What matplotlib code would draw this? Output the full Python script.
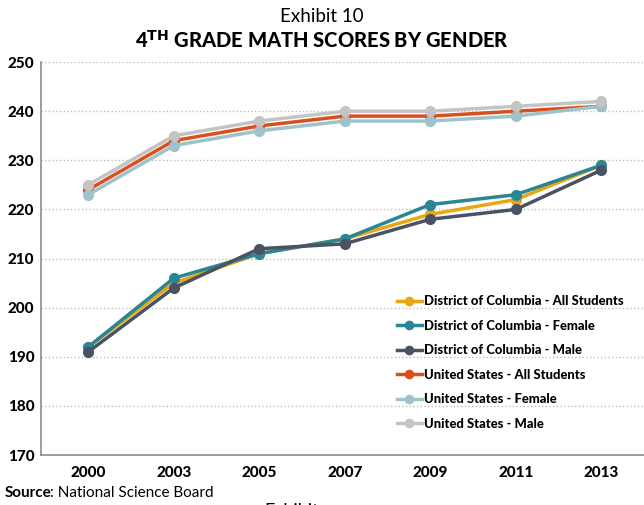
import matplotlib
matplotlib.use("Agg")
import matplotlib.pyplot as plt

years = ["2000", "2003", "2005", "2007", "2009", "2011", "2013"]
dc_all = [192, 205, 211, 214, 219, 222, 229]
dc_female = [192, 206, 211, 214, 221, 223, 229]
dc_male = [191, 204, 212, 213, 218, 220, 228]
us_all = [224, 234, 237, 239, 239, 240, 241]
us_female = [223, 233, 236, 238, 238, 239, 241]
us_male = [225, 235, 238, 240, 240, 241, 242]

series = [
    ("District of Columbia - All Students", dc_all, "#E8A712"),
    ("District of Columbia - Female", dc_female, "#2A8595"),
    ("District of Columbia - Male", dc_male, "#4A5363"),
    ("United States - All Students", us_all, "#D9501E"),
    ("United States - Female", us_female, "#9EC3CA"),
    ("United States - Male", us_male, "#C4C4C4"),
]

plt.rcParams["font.family"] = ["Lato", "DejaVu Sans"]

fig = plt.figure(figsize=(6.44, 5.05), dpi=100)
ax = fig.add_axes([0.064, 0.099, 0.936, 0.778])

x = list(range(len(years)))
for label, vals, color in series:
    ax.plot(x, vals, color=color, lw=2.5, marker="o", markersize=7, label=label)

ax.set_ylim(170, 250)
ax.set_yticks(range(170, 251, 10))
ax.set_xlim(-0.55, 6.5)
ax.set_xticks(x)
ax.set_xticklabels(years)
for t in ax.get_xticklabels() + ax.get_yticklabels():
    t.set_fontweight("black")
    t.set_fontsize(11)
ax.tick_params(length=0, pad=8)
ax.tick_params(axis="y", pad=5)

ax.grid(axis="y", color="#BDBDBD", linestyle=":", lw=1)
ax.set_axisbelow(True)
for s in ["top", "right"]:
    ax.spines[s].set_visible(False)
for s in ["left", "bottom"]:
    ax.spines[s].set_color("#8C8C8C")
    ax.spines[s].set_linewidth(1.2)

leg = ax.legend(loc="lower right", bbox_to_anchor=(0.985, 0.035), frameon=False,
                fontsize=9.4, handlelength=1.9, handletextpad=0.15, labelspacing=0.95,
                markerscale=0.85)
for t in leg.get_texts():
    t.set_fontweight("black")

fig.text(0.5, 0.968, "Exhibit 10", ha="center", va="center", fontsize=13.5)
fig.text(0.5, 0.922, r"4$^{\mathbf{TH}}$ GRADE MATH SCORES BY GENDER", ha="center",
         va="center", fontsize=14.5, fontweight="black")
fig.text(0.008, 0.024, "Source", ha="left", va="center", fontsize=11, fontweight="bold")
fig.text(0.078, 0.024, ": National Science Board", ha="left", va="center", fontsize=11)
fig.text(0.41, -0.012, "Exhibit", ha="left", va="center", fontsize=13)

fig.savefig("out.png", dpi=100)
